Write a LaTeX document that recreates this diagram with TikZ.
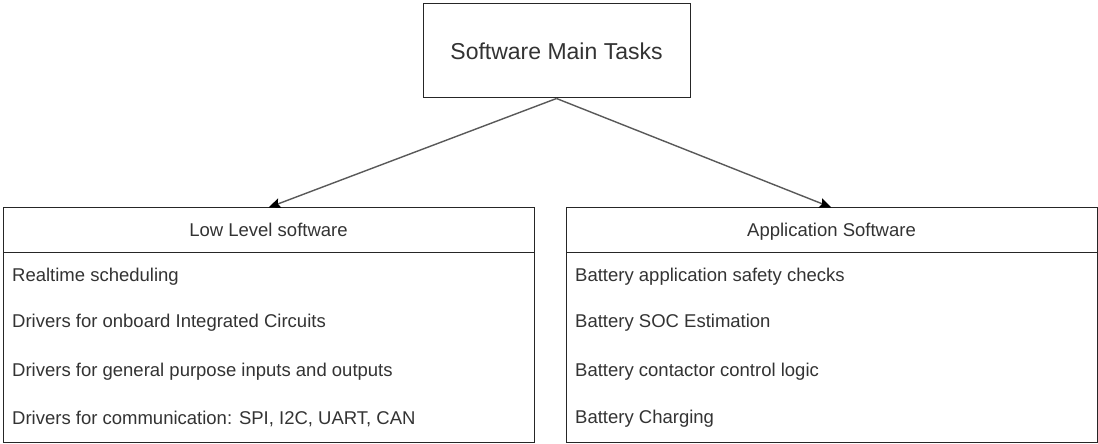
\documentclass[tikz,border=0pt]{standalone}
\usepackage{fontspec}
\setmainfont{Liberation Sans}
\usetikzlibrary{arrows.meta}
\begin{document}
\begin{tikzpicture}[x=1pt,y=1pt,
  box/.style={draw=black!85,line width=1pt,rectangle,inner sep=0pt,text=black!80},
  hdr/.style={box,minimum width=531pt,minimum height=45pt,font=\fontsize{18.5}{20}\selectfont,text height=15pt,text depth=3pt},
  item/.style={anchor=west,inner sep=0pt,text=black!80,font=\fontsize{18.5}{20}\selectfont},
  conn/.style={draw=black!65,line width=1.4pt,-{Stealth[length=12pt,width=10pt,inset=2pt,fill=black,color=black]}}
]
\useasboundingbox (0,0) rectangle (1098,444);
\fill[white] (0,0) rectangle (1098,444);
\node[box,minimum width=267pt,minimum height=94pt,font=\fontsize{23}{26}\selectfont] (top) at (556.5,393) {Software Main Tasks};
% left
\node[hdr] (lhead) at (268.5,213.5) {Low Level software};
\node[box,minimum width=531pt,minimum height=190pt] (lbody) at (268.5,96) {};
\node[item] (l1) at (12,167) {Realtime scheduling};
\node[item] (l2) at (12,121) {Drivers for onboard Integrated Circuits};
\node[item] (l3) at (12,72) {Drivers for general purpose inputs and outputs};
\node[item] (l4) at (12,25) {Drivers for communication: SPI, I2C, UART, CAN};
% right
\node[hdr] (rhead) at (831.5,213.5) {Application Software};
\node[box,minimum width=531pt,minimum height=190pt] (rbody) at (831.5,96) {};
\node[item] (r1) at (575,167) {Battery application safety checks};
\node[item] (r2) at (575,121) {Battery SOC Estimation};
\node[item] (r3) at (575,72) {Battery contactor control logic};
\node[item] (r4) at (575,25) {Battery Charging};
\draw[conn] (top.south) -- (lhead.north);
\draw[conn] (top.south) -- (rhead.north);
\end{tikzpicture}
\end{document}
